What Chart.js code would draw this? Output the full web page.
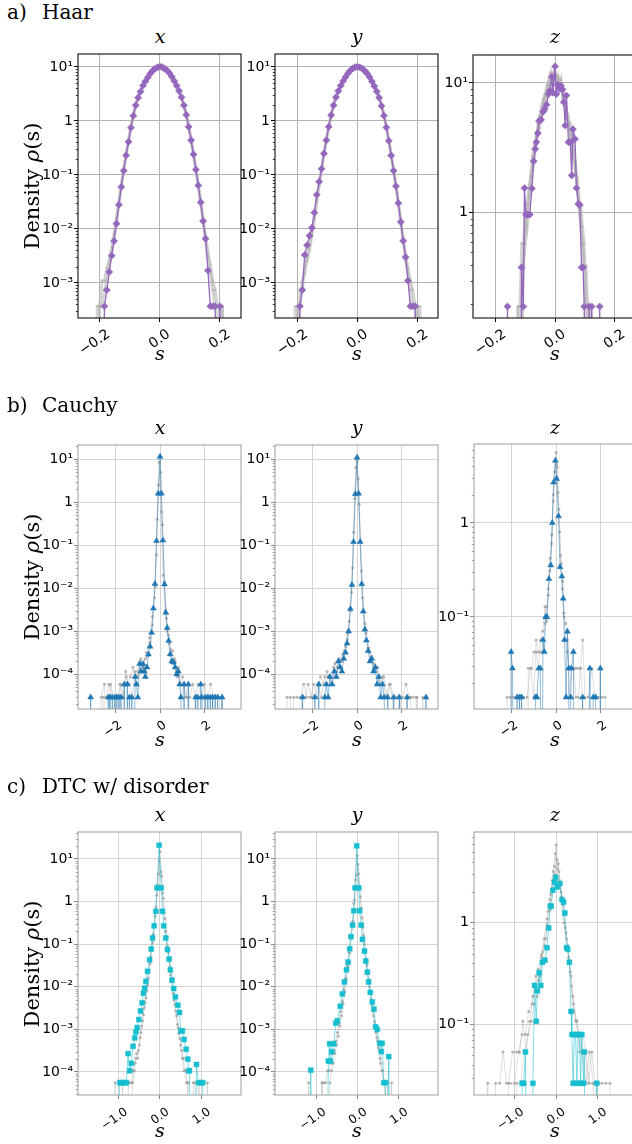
<!DOCTYPE html>
<html>
<head>
<meta charset="utf-8">
<title>Density of s</title>
<script src="https://cdn.jsdelivr.net/npm/chart.js@4.4.1/dist/chart.umd.min.js"></script>
<style>
  html, body { margin: 0; padding: 0; background: #fff; }
  body { position: relative; width: 632px; height: 1144px; overflow: hidden; }
  canvas { position: absolute; }
  .txt { position: absolute; font-family: 'DejaVu Serif', serif; color: #000; white-space: nowrap; line-height: 1; }
  .mid { transform: translate(-50%, -50%); }
  .vert { transform: translate(-50%, -50%) rotate(-90deg); }
</style>
</head>
<body>
<script>
// ---- labels ----
var rowTags = ['a)', 'b)', 'c)'];
var rowNames = ['Haar', 'Cauchy', 'DTC w/ disorder'];
var colNames = ['x', 'y', 'z'];

// ---- ticks ----
var haarTicks = [-0.2, 0, 0.2];
var cauchyTicks = [-2, 0, 2];
var dtcTicks = [-1, 0, 1];
var decA = [10, 1, 0.1, 0.01, 0.001];
var decAZ = [10, 1];
var decBC = [10, 1, 0.1, 0.01, 0.001, 0.0001];
var decZ = [1, 0.1];

// ---- a) Haar : shared bins for x and y ----
var haarBins = [-0.216,-0.208,-0.2,-0.192,-0.184,-0.176,-0.168,-0.16,-0.152,
  -0.144,-0.136,-0.128,-0.12,-0.112,-0.104,-0.096,-0.088,-0.08,
  -0.072,-0.064,-0.056,-0.048,-0.04,-0.032,-0.024,-0.016,-0.008,
  0,0.008,0.016,0.024,0.032,0.04,0.048,0.056,0.064,
  0.072,0.08,0.088,0.096,0.104,0.112,0.12,0.128,0.136,
  0.144,0.152,0.16,0.168,0.176,0.184,0.192,0.2,0.208,
  0.216];
var haarX_purple = [0,0,0,0,3.7e-4,7.4e-4,1.6e-3,3.2e-3,6.0e-3,
  0.0125,0.028,0.060,0.12,0.23,0.41,0.75,1.25,1.95,
  2.7,3.5,4.5,5.4,6.4,7.5,8.5,9.3,9.8,
  10.2,9.9,9.3,8.6,7.7,6.6,5.5,4.5,3.6,
  2.75,1.95,1.3,0.78,0.44,0.24,0.125,0.064,0.031,
  0.014,6.6e-3,1.7e-3,3.7e-4,3.7e-4,3.7e-4,0,3.7e-4,0,
  0];
var haarX_gray1 = [0,3.7e-4,3.7e-4,1.1e-3,1.1e-3,1.9e-3,2.6e-3,4.5e-3,8.2e-3,
  0.016,0.033,0.066,0.13,0.25,0.44,0.79,1.3,2.0,
  2.8,3.6,4.6,5.5,6.5,7.6,8.6,9.4,9.9,
  10.3,10.0,9.4,8.7,7.8,6.7,5.6,4.6,3.7,
  2.8,2.0,1.35,0.82,0.47,0.26,0.135,0.068,0.034,
  0.016,7.8e-3,3.7e-3,2.2e-3,1.1e-3,7.4e-4,3.7e-4,3.7e-4,3.7e-4,
  0];
var haarX_gray2 = [0,0,3.7e-4,3.7e-4,7.4e-4,1.1e-3,2.2e-3,3.7e-3,7.0e-3,
  0.014,0.030,0.062,0.125,0.24,0.43,0.77,1.27,1.97,
  2.72,3.55,4.5,5.45,6.45,7.5,8.5,9.3,9.8,
  10.1,9.8,9.3,8.55,7.6,6.5,5.4,4.45,3.5,
  2.7,1.92,1.28,0.77,0.43,0.23,0.12,0.06,0.029,
  0.013,6.0e-3,3.0e-3,1.5e-3,7.4e-4,3.7e-4,3.7e-4,0,3.7e-4,
  0];
var haarY_purple = [0,0,0,3.7e-4,7.4e-4,3.3e-3,5.0e-3,7.5e-3,0.0105,
  0.020,0.043,0.075,0.13,0.25,0.44,0.78,1.28,1.95,
  2.75,3.6,4.5,5.5,6.5,7.6,8.6,9.4,9.9,
  10.1,9.8,9.3,8.5,7.6,6.5,5.4,4.4,3.5,
  2.7,1.9,1.25,0.76,0.43,0.23,0.12,0.062,0.030,
  0.0135,6.0e-3,3.0e-3,1.1e-3,3.7e-4,3.7e-4,3.7e-4,0,0,
  0];
var haarY_gray1 = [0,0,3.7e-4,3.7e-4,1.1e-3,1.5e-3,3.0e-3,5.2e-3,9.0e-3,
  0.017,0.035,0.068,0.13,0.25,0.45,0.8,1.3,2.0,
  2.8,3.65,4.6,5.55,6.55,7.6,8.6,9.4,9.9,
  10.2,9.9,9.4,8.6,7.7,6.6,5.5,4.5,3.6,
  2.75,1.95,1.3,0.8,0.45,0.25,0.13,0.066,0.032,
  0.015,7.0e-3,3.4e-3,1.9e-3,1.1e-3,7.4e-4,3.7e-4,3.7e-4,0,
  0];
var haarY_gray2 = [0,3.7e-4,0,7.4e-4,7.4e-4,1.9e-3,2.6e-3,4.1e-3,7.8e-3,
  0.015,0.031,0.063,0.125,0.24,0.43,0.77,1.27,1.96,
  2.73,3.55,4.5,5.45,6.45,7.5,8.5,9.3,9.8,
  10.1,9.8,9.3,8.5,7.6,6.5,5.4,4.4,3.5,
  2.7,1.9,1.27,0.77,0.43,0.23,0.12,0.061,0.029,
  0.013,6.0e-3,2.6e-3,1.5e-3,7.4e-4,3.7e-4,3.7e-4,0,3.7e-4,
  0];

// ---- a) Haar z : [s, density] ----
var haarZ_purple = [[-0.166,0],[-0.16,0.19],[-0.155,0],[-0.118,0],[-0.113,0.38],[-0.107,0.19],
  [-0.103,1.55],[-0.098,0.97],[-0.092,0.97],[-0.085,0.97],[-0.078,1.54],[-0.072,2.5],[-0.067,3.1],
  [-0.063,3.5],[-0.058,4.1],[-0.054,5.1],[-0.047,5.2],[-0.04,6.0],[-0.035,6.3],[-0.029,6.8],
  [-0.022,8.2],[-0.018,8.7],[-0.011,11.1],[-0.007,8.4],[0,13.4],[0.004,8.2],[0.009,9.7],
  [0.016,9.0],[0.02,9.5],[0.025,8.9],[0.029,7.1],[0.034,4.7],[0.038,8.0],[0.045,3.5],[0.051,3.5],
  [0.056,1.94],[0.06,4.4],[0.067,3.7],[0.072,1.55],[0.078,1.17],[0.083,1.15],[0.089,0.38],
  [0.094,0.38],[0.098,0.19],[0.103,0],[0.109,0],[0.114,0.19],[0.119,0],[0.123,0.19],[0.128,0],
  [0.145,0],[0.15,0.19],[0.155,0]];
var haarZ_gray1 = [[-0.13,0],[-0.125,0.19],[-0.12,0],[-0.108,0.38],[-0.1,0.58],[-0.094,0.97],[-0.088,1.35],
  [-0.082,1.9],[-0.076,2.3],[-0.07,2.9],[-0.064,3.9],[-0.058,4.4],[-0.052,5.3],[-0.046,6.6],[-0.04,7.5],
  [-0.034,8.2],[-0.028,9.5],[-0.022,10.5],[-0.016,11.8],[-0.01,10.2],[-0.004,12.0],[0.002,10.8],
  [0.008,11.4],[0.014,9.3],[0.02,10.6],[0.026,8.1],[0.032,7.2],[0.038,6.0],[0.044,5.6],[0.05,4.1],
  [0.056,3.7],[0.062,3.0],[0.068,2.2],[0.074,1.7],[0.08,1.1],[0.086,0.78],[0.092,0.58],[0.098,0.38],
  [0.104,0.19],[0.11,0.19],[0.116,0]];
var haarZ_gray2 = [[-0.13,0],[-0.124,0.19],[-0.118,0.19],[-0.112,0.58],[-0.106,0.58],[-0.1,0.78],
  [-0.094,1.17],[-0.088,1.55],[-0.082,1.9],[-0.076,2.7],[-0.07,3.3],[-0.064,3.3],[-0.058,4.8],
  [-0.052,5.6],[-0.046,5.9],[-0.04,7.0],[-0.034,7.8],[-0.028,8.7],[-0.022,9.9],[-0.016,9.1],
  [-0.01,11.6],[-0.004,10.4],[0.002,9.7],[0.008,10.9],[0.014,10.2],[0.02,8.9],[0.026,9.1],
  [0.032,6.6],[0.038,6.6],[0.044,4.8],[0.05,4.9],[0.056,3.3],[0.062,2.7],[0.068,2.5],[0.074,1.55],
  [0.08,1.36],[0.086,0.97],[0.092,0.58],[0.098,0.39],[0.104,0.39],[0.11,0.19],[0.116,0.19],[0.122,0]];
var haarZ_gray3 = [[-0.118,0],[-0.112,0.19],[-0.106,0.39],[-0.1,0.97],[-0.094,0.78],[-0.088,1.17],
  [-0.082,1.55],[-0.076,2.1],[-0.07,2.5],[-0.064,3.7],[-0.058,3.9],[-0.052,4.5],[-0.046,5.6],
  [-0.04,6.4],[-0.034,7.4],[-0.028,7.8],[-0.022,9.7],[-0.016,10.1],[-0.01,9.1],[-0.004,11.3],
  [0.002,11.7],[0.008,9.5],[0.014,10.7],[0.02,9.7],[0.026,7.6],[0.032,7.8],[0.038,5.3],[0.044,5.1],
  [0.05,4.3],[0.056,2.9],[0.062,3.5],[0.068,2.0],[0.074,1.9],[0.08,1.17],[0.086,1.17],[0.092,0.78],
  [0.098,0.58],[0.104,0.19],[0.11,0],[0.116,0.19],[0.122,0.19],[0.128,0]];

// ---- b) Cauchy ----
var cauchyX_blue = [[-3.16,0],[-3.12,2.9e-5],[-3.08,0],[-2.37,0],[-2.33,2.9e-5],[-2.295,0],[-2.26,2.9e-5],
  [-2.2,0],[-2.15,2.9e-5],[-2.09,0],[-2.03,2.9e-5],[-1.985,0],[-1.94,2.9e-5],[-1.895,0],[-1.85,2.9e-5],
  [-1.805,0],[-1.76,2.9e-5],[-1.69,0],[-1.61,5.8e-5],[-1.54,0],[-1.47,5.8e-5],[-1.425,0],[-1.38,2.9e-5],
  [-1.325,0],[-1.27,2.9e-5],[-1.195,0],[-1.12,8.7e-5],[-1.06,5.8e-5],[-1.0,2.9e-5],[-0.92,1.74e-4],
  [-0.85,1.16e-4],[-0.77,1.74e-4],[-0.71,1.16e-4],[-0.66,8.7e-5],[-0.59,1.45e-4],[-0.52,2.9e-4],
  [-0.45,4.4e-4],[-0.38,9.3e-4],[-0.3,3.4e-3],[-0.23,0.0126],[-0.16,0.126],[-0.08,1.6],[0,11.5],
  [0.06,1.6],[0.13,0.13],[0.2,0.0124],[0.26,2.7e-3],[0.32,1.2e-3],[0.39,6.0e-4],[0.45,2.9e-4],
  [0.53,2.0e-4],[0.6,1.9e-4],[0.68,1.45e-4],[0.75,1.0e-4],[0.82,1.16e-4],[0.88,5.8e-5],[0.94,2.9e-5],
  [1.0,0],[1.08,5.8e-5],[1.17,0],[1.27,5.8e-5],[1.33,0],[1.56,0],[1.6,2.9e-5],[1.65,0],[1.7,2.9e-5],
  [1.765,0],[1.83,5.8e-5],[1.88,2.9e-5],[1.955,0],[2.03,2.9e-5],[2.09,0],[2.15,2.9e-5],[2.205,0],
  [2.26,2.9e-5],[2.31,0],[2.36,2.9e-5],[2.42,0],[2.48,2.9e-5],[2.535,0],[2.59,2.9e-5],[2.69,0],
  [2.79,2.9e-5],[2.84,0]];
var cauchyX_gray1 = [[-2.6,0],[-2.56,2.9e-5],[-2.43,2.9e-5],[-2.3,5.8e-5],[-2.17,2.9e-5],[-2.04,2.9e-5],
  [-1.91,2.9e-5],[-1.78,5.8e-5],[-1.65,2.9e-5],[-1.52,8.7e-5],[-1.39,5.8e-5],[-1.26,2.9e-5],
  [-1.13,1.16e-4],[-1.0,8.7e-5],[-0.87,2.3e-4],[-0.74,1.45e-4],[-0.61,3.2e-4],[-0.48,7e-4],
  [-0.35,2.2e-3],[-0.22,0.011],[-0.13,0.4],[-0.04,8.5],[0.05,0.6],[0.14,0.02],[0.23,3e-3],[0.32,1e-3],
  [0.41,5.2e-4],[0.5,3.2e-4],[0.59,1.74e-4],[0.68,2.0e-4],[0.77,8.7e-5],[0.86,1.16e-4],[0.95,2.9e-5],
  [1.08,5.8e-5],[1.21,2.9e-5],[1.34,2.9e-5],[1.47,5.8e-5],[1.6,2.9e-5],[1.73,2.9e-5],[1.86,2.9e-5],
  [1.99,5.8e-5],[2.12,2.9e-5],[2.25,2.9e-5],[2.38,2.9e-5],[2.51,2.9e-5],[2.64,2.9e-5],[2.77,2.9e-5],[2.82,0]];
var cauchyX_gray2 = [[-2.7,0],[-2.65,2.9e-5],[-2.5,5.8e-5],[-2.36,0],[-2.22,5.8e-5],[-2.08,2.9e-5],[-1.94,0],
  [-1.8,5.8e-5],[-1.66,2.9e-5],[-1.55,1.16e-4],[-1.44,5.8e-5],[-1.33,8.7e-5],[-1.22,1.45e-4],
  [-1.11,5.8e-5],[-1.0,1.16e-4],[-0.89,2.0e-4],[-0.78,1.45e-4],[-0.67,2.3e-4],[-0.56,2.6e-4],
  [-0.45,5.5e-4],[-0.34,1.4e-3],[-0.25,6e-3],[-0.16,0.06],[-0.07,2.5],[0.02,5.0],[0.11,0.3],[0.2,0.014],
  [0.29,2e-3],[0.38,8.1e-4],[0.47,3.8e-4],[0.56,3.5e-4],[0.65,2.3e-4],[0.74,1.16e-4],[0.83,1.45e-4],
  [0.92,5.8e-5],[1.01,8.7e-5],[1.15,2.9e-5],[1.29,5.8e-5],[1.43,0],[1.57,2.9e-5],[1.71,5.8e-5],
  [1.85,2.9e-5],[1.99,0],[2.13,2.9e-5],[2.27,5.8e-5],[2.41,2.9e-5],[2.55,0],[2.69,2.9e-5],[2.8,2.9e-5],[2.86,0]];
var cauchyY_blue = [[-2.5,0],[-2.45,2.9e-5],[-2.4,0],[-1.95,0],[-1.9,2.9e-5],[-1.83,0],[-1.72,5.8e-5],
  [-1.65,0],[-1.5,0],[-1.45,2.9e-5],[-1.38,5.8e-5],[-1.3,2.9e-5],[-1.22,8.7e-5],[-1.12,5.8e-5],
  [-1.02,1.16e-4],[-0.93,8.7e-5],[-0.84,2.0e-4],[-0.76,1.45e-4],[-0.68,1.16e-4],[-0.6,2.3e-4],
  [-0.52,3.2e-4],[-0.45,5.2e-4],[-0.38,1.0e-3],[-0.3,3.3e-3],[-0.23,0.012],[-0.16,0.12],[-0.08,1.55],
  [0,11],[0.07,1.6],[0.14,0.12],[0.21,0.0125],[0.28,2.9e-3],[0.35,1.1e-3],[0.42,6.1e-4],[0.5,3.5e-4],
  [0.58,2.0e-4],[0.66,2.3e-4],[0.74,1.16e-4],[0.82,1.45e-4],[0.9,5.8e-5],[0.98,8.7e-5],[1.06,2.9e-5],
  [1.14,5.8e-5],[1.22,2.9e-5],[1.3,0],[1.38,2.9e-5],[1.46,0],[1.6,0],[1.65,2.9e-5],[1.7,0],[1.85,0],
  [1.9,2.9e-5],[1.95,0],[2.2,0],[2.25,2.9e-5],[2.3,0],[3.05,0],[3.1,2.9e-5],[3.15,0]];
var cauchyY_gray1 = [[-2.9,0],[-2.85,2.9e-5],[-2.7,2.9e-5],[-2.55,2.9e-5],[-2.4,5.8e-5],[-2.25,2.9e-5],
  [-2.1,2.9e-5],[-1.95,5.8e-5],[-1.8,2.9e-5],[-1.65,8.7e-5],[-1.5,5.8e-5],[-1.35,1.16e-4],[-1.2,5.8e-5],
  [-1.05,1.45e-4],[-0.92,1.16e-4],[-0.8,2.3e-4],[-0.68,2.0e-4],[-0.56,3.5e-4],[-0.45,6.4e-4],
  [-0.35,1.7e-3],[-0.25,8e-3],[-0.15,0.2],[-0.05,6.5],[0.05,3.5],[0.15,0.12],[0.25,6e-3],[0.35,1.5e-3],
  [0.45,6.1e-4],[0.56,3.2e-4],[0.68,2.3e-4],[0.8,1.16e-4],[0.92,1.45e-4],[1.05,5.8e-5],[1.2,8.7e-5],
  [1.35,2.9e-5],[1.5,5.8e-5],[1.65,2.9e-5],[1.8,2.9e-5],[1.95,2.9e-5],[2.1,0],[2.25,2.9e-5],[2.4,2.9e-5],
  [2.55,0],[2.7,2.9e-5],[2.85,0]];
var cauchyY_gray2 = [[-3.2,0],[-3.15,2.9e-5],[-3.0,2.9e-5],[-2.85,0],[-2.6,0],[-2.5,2.9e-5],[-2.35,2.9e-5],
  [-2.2,5.8e-5],[-2.05,2.9e-5],[-1.9,2.9e-5],[-1.75,5.8e-5],[-1.6,2.9e-5],[-1.45,8.7e-5],[-1.3,8.7e-5],
  [-1.15,5.8e-5],[-1.0,1.74e-4],[-0.88,1.45e-4],[-0.76,2.0e-4],[-0.64,2.9e-4],[-0.52,4.4e-4],
  [-0.41,8.7e-4],[-0.3,3e-3],[-0.2,0.03],[-0.1,1.2],[0.0,9],[0.1,0.9],[0.2,0.025],[0.3,2.8e-3],
  [0.41,9e-4],[0.52,4.1e-4],[0.64,2.6e-4],[0.76,1.74e-4],[0.88,1.16e-4],[1.0,5.8e-5],[1.15,8.7e-5],
  [1.3,2.9e-5],[1.45,5.8e-5],[1.6,2.9e-5],[1.75,0],[1.9,2.9e-5],[2.05,2.9e-5],[2.2,5.8e-5],[2.35,2.9e-5],
  [2.5,2.9e-5],[2.65,2.9e-5],[2.8,0],[2.95,2.9e-5],[3.1,0]];
var cauchyZ_blue = [[-2.08,0],[-2.02,0.0425],[-1.96,0.0284],[-1.85,0],[-1.75,0.014],[-1.7,0],[-1.64,0.014],
  [-1.6,0],[-1.55,0.014],[-1.5,0],[-0.97,0],[-0.92,0.014],[-0.86,0.014],[-0.78,0.0284],[-0.71,0.0284],
  [-0.65,0],[-0.59,0.057],[-0.53,0.0425],[-0.47,0.1],[-0.41,0.1],[-0.32,0.254],[-0.24,0.355],
  [-0.17,1.0],[-0.11,2.7],[-0.03,4.6],[0.03,2.94],[0.11,1.18],[0.18,0.34],[0.26,0.27],[0.32,0.157],
  [0.38,0.057],[0.45,0.014],[0.51,0.07],[0.57,0.0284],[0.62,0],[0.66,0.014],[0.69,0.0284],[0.78,0.0425],
  [0.84,0],[1.14,0],[1.19,0.014],[1.24,0],[1.47,0],[1.52,0.0284],[1.58,0],[1.62,0],[1.67,0.014],
  [1.78,0.014],[1.84,0],[1.94,0],[1.99,0.0284],[2.04,0]];
var cauchyZ_gray1 = [[-2.25,0],[-2.2,0.014],[-2.05,0.014],[-1.9,0.014],[-1.75,0.014],[-1.6,0.014],
  [-1.45,0.014],[-1.3,0.014],[-1.15,0.0284],[-1.0,0.014],[-0.9,0.057],[-0.8,0.0425],[-0.7,0.0425],
  [-0.6,0.0425],[-0.5,0.085],[-0.42,0.128],[-0.35,0.2],[-0.28,0.31],[-0.2,0.6],[-0.13,1.7],[-0.06,3.5],
  [0.0,5.6],[0.06,3.9],[0.13,1.4],[0.2,0.45],[0.28,0.2],[0.35,0.11],[0.42,0.057],[0.5,0.0425],
  [0.6,0.0284],[0.7,0.0284],[0.8,0.0284],[0.9,0.0284],[1.0,0.0284],[1.1,0.0284],[1.2,0.057],[1.3,0.014],
  [1.45,0.014],[1.6,0.0284],[1.75,0.014],[1.9,0.014],[2.05,0.014],[2.2,0.014],[2.25,0]];
var cauchyZ_gray2 = [[-1.3,0],[-1.25,0.0284],[-1.1,0.0284],[-1.0,0.0425],[-0.9,0.0425],[-0.8,0.0284],
  [-0.7,0.057],[-0.6,0.071],[-0.5,0.128],[-0.42,0.09],[-0.35,0.17],[-0.27,0.42],[-0.19,0.75],[-0.12,2.0],
  [-0.05,3.0],[0.02,4.2],[0.09,2.1],[0.16,0.8],[0.23,0.37],[0.3,0.24],[0.37,0.1],[0.44,0.085],
  [0.51,0.057],[0.6,0.014],[0.7,0.0284],[0.8,0.0284],[0.9,0.014],[1.0,0.014],[1.1,0.0284],[1.2,0.014],[1.3,0]];

// ---- c) DTC w/ disorder ----
var dtcX_cyan = [[-1.01,0],[-0.97,5.6e-5],[-0.93,5.6e-5],[-0.89,5.6e-5],[-0.85,5.6e-5],[-0.81,5.6e-5],
  [-0.77,2.7e-4],[-0.73,1.07e-4],[-0.69,1.6e-4],[-0.65,4.0e-4],[-0.61,6.3e-4],[-0.58,8.7e-4],
  [-0.55,1.1e-3],[-0.51,1.7e-3],[-0.47,2.7e-3],[-0.43,4.2e-3],[-0.4,7.1e-3],[-0.37,9.3e-3],
  [-0.34,0.0134],[-0.3,0.023],[-0.25,0.043],[-0.21,0.077],[-0.18,0.14],[-0.14,0.27],[-0.1,0.59],
  [-0.07,2.1],[-0.02,21],[0.03,2.1],[0.06,0.59],[0.09,0.27],[0.14,0.14],[0.18,0.075],[0.22,0.045],
  [0.25,0.025],[0.29,0.0143],[0.33,9.1e-3],[0.37,5.8e-3],[0.43,3.7e-3],[0.47,2.5e-3],[0.5,9.2e-4],
  [0.54,9.2e-4],[0.58,5.8e-4],[0.63,3.4e-4],[0.67,2.0e-4],[0.69,1.07e-4],[0.71,1.07e-4],[0.75,0],
  [0.84,0],[0.88,1.5e-4],[0.93,5.6e-5],[0.98,5.6e-5],[1.03,5.6e-5],[1.07,0]];
var dtcX_gray1 = [[-1.12,0],[-1.08,5.6e-5],[-1.04,0],[-0.8,0],[-0.76,5.6e-5],[-0.72,5.6e-5],[-0.68,5.6e-5],
  [-0.64,1.07e-4],[-0.6,1.6e-4],[-0.56,2.7e-4],[-0.52,3.2e-4],[-0.48,6.4e-4],[-0.44,1.2e-3],[-0.4,2.2e-3],
  [-0.36,4.3e-3],[-0.32,8.0e-3],[-0.28,0.016],[-0.24,0.035],[-0.2,0.075],[-0.16,0.17],[-0.12,0.45],
  [-0.08,1.4],[-0.04,4.5],[0.0,15],[0.04,4.0],[0.08,1.2],[0.12,0.4],[0.16,0.15],[0.2,0.065],[0.24,0.03],
  [0.28,0.014],[0.32,7e-3],[0.36,3.8e-3],[0.4,2.1e-3],[0.44,1.1e-3],[0.48,6e-4],[0.52,3.2e-4],
  [0.56,2.1e-4],[0.6,1.07e-4],[0.64,5.6e-5],[0.68,5.6e-5],[0.72,0],[0.9,0],[0.94,5.6e-5],[0.98,0],
  [1.1,0],[1.14,5.6e-5],[1.18,0]];
var dtcX_gray2 = [[-0.95,0],[-0.9,5.6e-5],[-0.86,0],[-0.7,0],[-0.66,5.6e-5],[-0.62,1.07e-4],[-0.58,2.1e-4],
  [-0.54,2.1e-4],[-0.5,4.3e-4],[-0.46,8.5e-4],[-0.42,1.6e-3],[-0.38,3.2e-3],[-0.34,5.5e-3],[-0.3,0.011],
  [-0.26,0.024],[-0.22,0.05],[-0.18,0.11],[-0.14,0.26],[-0.1,0.75],[-0.06,2.5],[-0.02,9],[0.02,5],
  [0.06,1.6],[0.1,0.55],[0.14,0.2],[0.18,0.09],[0.22,0.04],[0.26,0.019],[0.3,9e-3],[0.34,4.8e-3],
  [0.38,2.7e-3],[0.42,1.3e-3],[0.46,8e-4],[0.5,4.3e-4],[0.54,2.1e-4],[0.58,1.07e-4],[0.62,1.07e-4],
  [0.66,5.6e-5],[0.7,0],[0.76,0],[0.8,5.6e-5],[0.84,5.6e-5],[0.88,0]];
var dtcY_cyan = [[-1.19,0],[-1.15,1.1e-4],[-1.11,0],[-0.76,0],[-0.72,1.8e-4],[-0.69,4.6e-4],[-0.67,1.8e-4],
  [-0.64,3.0e-4],[-0.59,4.6e-4],[-0.54,1.4e-3],[-0.5,1.6e-3],[-0.43,3.5e-3],[-0.38,6.8e-3],[-0.33,0.013],
  [-0.28,0.025],[-0.24,0.038],[-0.2,0.078],[-0.17,0.15],[-0.13,0.28],[-0.1,0.61],[-0.07,2.1],[-0.03,20.4],
  [0.02,2.1],[0.04,0.61],[0.08,0.28],[0.11,0.13],[0.16,0.069],[0.19,0.04],[0.23,0.022],[0.26,0.013],
  [0.3,7.4e-3],[0.35,4.4e-3],[0.39,3.0e-3],[0.43,1.15e-3],[0.47,1.0e-3],[0.53,4.7e-4],[0.57,3.0e-4],
  [0.59,4.7e-4],[0.63,5.6e-5],[0.67,5.6e-5],[0.71,0],[0.75,2.3e-4],[0.79,0]];
var dtcY_gray1 = [[-1.25,0],[-1.2,5.6e-5],[-1.16,0],[-0.9,0],[-0.86,5.6e-5],[-0.82,5.6e-5],[-0.78,5.6e-5],
  [-0.74,1.07e-4],[-0.7,1.07e-4],[-0.66,1.6e-4],[-0.62,2.7e-4],[-0.58,3.2e-4],[-0.54,5.3e-4],
  [-0.5,8.5e-4],[-0.46,1.4e-3],[-0.42,2.6e-3],[-0.38,4.5e-3],[-0.34,8.5e-3],[-0.3,0.016],[-0.26,0.032],
  [-0.22,0.065],[-0.18,0.14],[-0.14,0.32],[-0.1,0.9],[-0.06,3.2],[-0.02,12],[0.02,4.5],[0.06,1.3],
  [0.1,0.42],[0.14,0.16],[0.18,0.07],[0.22,0.032],[0.26,0.015],[0.3,7.5e-3],[0.34,3.8e-3],[0.38,2.1e-3],
  [0.42,1.1e-3],[0.46,6.4e-4],[0.5,3.7e-4],[0.54,2.1e-4],[0.58,1.07e-4],[0.62,5.6e-5],[0.66,5.6e-5],
  [0.7,0],[0.78,0],[0.82,5.6e-5],[0.86,0]];
var dtcY_gray2 = [[-0.92,0],[-0.88,5.6e-5],[-0.84,0],[-0.72,0],[-0.68,5.6e-5],[-0.64,1.07e-4],[-0.6,1.6e-4],
  [-0.56,2.7e-4],[-0.52,4.3e-4],[-0.48,6.9e-4],[-0.44,1.2e-3],[-0.4,2.1e-3],[-0.36,4e-3],[-0.32,7.5e-3],
  [-0.28,0.015],[-0.24,0.03],[-0.2,0.062],[-0.16,0.14],[-0.12,0.35],[-0.08,1.1],[-0.04,4.2],[0.0,7.5],
  [0.04,2.2],[0.08,0.7],[0.12,0.25],[0.16,0.1],[0.2,0.045],[0.24,0.021],[0.28,0.01],[0.32,5e-3],
  [0.36,2.7e-3],[0.4,1.5e-3],[0.44,8.5e-4],[0.48,5.3e-4],[0.52,3.2e-4],[0.56,1.6e-4],[0.6,1.07e-4],
  [0.64,5.6e-5],[0.68,0],[0.72,5.6e-5],[0.76,0]];
var dtcZ_cyan = [[-0.86,0],[-0.82,0.0266],[-0.78,0.0266],[-0.74,0.054],[-0.7,0],[-0.6,0],[-0.56,0.0266],
  [-0.52,0.243],[-0.48,0.108],[-0.45,0.215],[-0.41,0.324],[-0.37,0.243],[-0.33,0.41],[-0.27,0.43],
  [-0.22,0.57],[-0.18,0.89],[-0.14,1.46],[-0.12,1.46],[-0.08,2.09],[-0.04,2.5],[-0.01,2.8],[0.03,2.25],
  [0.09,2.43],[0.14,1.69],[0.18,1.6],[0.21,1.25],[0.25,0.57],[0.28,0.55],[0.32,0.41],[0.36,0.135],
  [0.38,0.08],[0.41,0.0266],[0.44,0.08],[0.47,0.08],[0.5,0.0266],[0.53,0.08],[0.56,0.08],[0.59,0.0266],
  [0.62,0.08],[0.66,0.0266],[0.68,0.054],[0.72,0],[0.94,0],[0.98,0.0266],[1.02,0]];
var dtcZ_gray1 = [[-1.7,0],[-1.65,0.0266],[-1.55,0],[-1.46,0.0266],[-1.36,0.0266],[-1.28,0.054],[-1.2,0.0266],
  [-1.1,0.0266],[-1.0,0.0266],[-0.9,0.054],[-0.82,0.08],[-0.74,0.08],[-0.66,0.135],[-0.58,0.16],
  [-0.5,0.24],[-0.43,0.35],[-0.36,0.46],[-0.29,0.7],[-0.22,1.1],[-0.15,1.7],[-0.09,2.6],[-0.04,3.6],
  [0.0,5.8],[0.05,3.8],[0.1,2.4],[0.16,1.5],[0.22,0.9],[0.28,0.6],[0.34,0.33],[0.4,0.19],[0.47,0.11],
  [0.54,0.08],[0.62,0.054],[0.7,0.054],[0.78,0.0266],[0.86,0.054],[0.94,0.0266],[1.02,0.0266],
  [1.1,0.0266],[1.2,0.0266],[1.3,0.0266],[1.35,0]];
var dtcZ_gray2 = [[-1.2,0],[-1.15,0.0266],[-1.05,0.054],[-0.96,0.054],[-0.88,0.054],[-0.8,0.108],[-0.72,0.054],
  [-0.64,0.108],[-0.56,0.19],[-0.49,0.3],[-0.42,0.27],[-0.35,0.49],[-0.28,0.6],[-0.21,0.95],[-0.14,1.35],
  [-0.08,2.2],[-0.03,3.0],[0.02,4.2],[0.07,3.2],[0.12,2.0],[0.18,1.2],[0.24,0.8],[0.3,0.46],[0.36,0.3],
  [0.42,0.16],[0.49,0.108],[0.56,0.08],[0.64,0.054],[0.72,0.0266],[0.8,0.054],[0.9,0.0266],[1.0,0]];
var dtcZ_gray3 = [[-1.0,0],[-0.95,0.0266],[-0.85,0.0266],[-0.76,0.054],[-0.68,0.08],[-0.6,0.108],
  [-0.53,0.16],[-0.46,0.19],[-0.39,0.3],[-0.32,0.52],[-0.25,0.7],[-0.19,1.3],[-0.13,1.9],[-0.07,3.2],
  [-0.02,4.8],[0.03,3.4],[0.08,2.6],[0.13,1.8],[0.19,1.0],[0.25,0.7],[0.31,0.43],[0.37,0.24],
  [0.43,0.135],[0.5,0.108],[0.57,0.054],[0.64,0.08],[0.72,0.054],[0.8,0.0266],[0.88,0.0266],
  [0.96,0.0266],[1.04,0]];

// ---- styling per row ----
var ROW_STYLE = [
  { frame: '#222', frameW: 1.2, grid: '#b3b3b3', tick: '#000', xFont: 14, lblOff: 9, lblPad: 4,
    color: '#9467bd', line: '#9467bd', shape: 'rectRot', r: 3.6, lw: 1.3,
    gLine: 'rgba(178,178,178,0.55)', gLw: 3, gPt: 'rgba(170,170,170,0.6)', gR: 1.2 },
  { frame: '#9c9c9c', frameW: 1, grid: '#d4d4d4', tick: '#888', xFont: 12.5, lblOff: 5, lblPad: 5,
    color: '#1f77b4', line: 'rgba(31,119,180,0.55)', shape: 'triangle', r: 3.4, lw: 0.9,
    gLine: 'rgba(165,165,165,0.45)', gLw: 0.8, gPt: 'rgba(160,160,160,0.75)', gR: 1.5 },
  { frame: '#9c9c9c', frameW: 1, grid: '#d4d4d4', tick: '#888', xFont: 12, lblOff: 8, lblPad: 6,
    color: '#17becf', line: 'rgba(23,190,207,0.6)', shape: 'rect', r: 3.5, lw: 0.9,
    gLine: 'rgba(165,165,165,0.45)', gLw: 0.8, gPt: 'rgba(160,160,160,0.75)', gR: 1.5 }
];

function zipBins(bins, vals) {
  return bins.map(function (s, i) { return [s, vals[i]]; });
}

var PANELS = [
  { row: 0, left: 78, top: 54, w: 163, h: 264, x: [-0.272, 0.27], y: [2.24e-4, 17.4], xt: haarTicks, yt: decA, dig: 1,
    main: zipBins(haarBins, haarX_purple), grays: [zipBins(haarBins, haarX_gray1), zipBins(haarBins, haarX_gray2)] },
  { row: 0, left: 275, top: 54, w: 163, h: 264, x: [-0.275, 0.268], y: [2.24e-4, 17.4], xt: haarTicks, yt: decA, dig: 1,
    main: zipBins(haarBins, haarY_purple), grays: [zipBins(haarBins, haarY_gray1), zipBins(haarBins, haarY_gray2)] },
  { row: 0, left: 473, top: 55, w: 163, h: 263, x: [-0.276, 0.272], y: [0.155, 16.4], xt: haarTicks, yt: decAZ, dig: 1,
    main: haarZ_purple, grays: [haarZ_gray1, haarZ_gray2, haarZ_gray3] },
  { row: 1, left: 78, top: 445, w: 163, h: 264, x: [-3.69, 3.64], y: [1.55e-5, 21.4], xt: cauchyTicks, yt: decBC, dig: 0,
    main: cauchyX_blue, grays: [cauchyX_gray1, cauchyX_gray2] },
  { row: 1, left: 275, top: 445, w: 163, h: 264, x: [-3.69, 3.64], y: [1.55e-5, 21.4], xt: cauchyTicks, yt: decBC, dig: 0,
    main: cauchyY_blue, grays: [cauchyY_gray1, cauchyY_gray2] },
  { row: 1, left: 474, top: 444, w: 163, h: 265, x: [-3.69, 3.64], y: [0.0105, 6.9], xt: cauchyTicks, yt: decZ, dig: 0,
    main: cauchyZ_blue, grays: [cauchyZ_gray1, cauchyZ_gray2] },
  { row: 2, left: 78, top: 832, w: 163, h: 263, x: [-1.976, 1.952], y: [2.88e-5, 43], xt: dtcTicks, yt: decBC, dig: 1,
    main: dtcX_cyan, grays: [dtcX_gray1, dtcX_gray2] },
  { row: 2, left: 275, top: 832, w: 163, h: 263, x: [-2.02, 1.95], y: [2.88e-5, 43], xt: dtcTicks, yt: decBC, dig: 1,
    main: dtcY_cyan, grays: [dtcY_gray1, dtcY_gray2] },
  { row: 2, left: 474, top: 832, w: 163, h: 263, x: [-1.98, 1.95], y: [0.0204, 7.8], xt: dtcTicks, yt: decZ, dig: 1,
    main: dtcZ_cyan, grays: [dtcZ_gray1, dtcZ_gray2, dtcZ_gray3] }
];

var PAD_L = 48, PAD_R = 6, PAD_T = 6, PAD_B = 52;

var SUP = { '-': '\u207B', '0': '\u2070', '1': '\u00B9', '2': '\u00B2', '3': '\u00B3', '4': '\u2074', '5': '\u2075' };
function decadeLabel(v) {
  var e = Math.round(Math.log10(v));
  if (e === 0) return '1';
  return '10' + String(e).split('').map(function (c) { return SUP[c]; }).join('');
}
function xLabel(v, dig) {
  var t = Math.abs(v).toFixed(dig);
  return (v < 0 ? '\u2212' : '') + t;
}

// frame + minor log ticks, drawn on top of the data
var framePlugin = {
  id: 'frame',
  afterDraw: function (chart, args, o) {
    var a = chart.chartArea, c = chart.ctx, ys = chart.scales.y;
    c.save();
    c.strokeStyle = o.tick;
    c.lineWidth = 0.8;
    var lo = Math.floor(Math.log10(ys.min)), hi = Math.ceil(Math.log10(ys.max));
    for (var k = lo; k <= hi; k++) {
      for (var m = 2; m < 10; m++) {
        var v = m * Math.pow(10, k);
        if (v < ys.min || v > ys.max) continue;
        var py = Math.round(ys.getPixelForValue(v)) + 0.5;
        c.beginPath(); c.moveTo(a.left - 2.2, py); c.lineTo(a.left, py); c.stroke();
      }
    }
    c.strokeStyle = o.color;
    c.lineWidth = o.width;
    c.strokeRect(a.left, a.top, a.right - a.left, a.bottom - a.top);
    c.restore();
  }
};

function buildPanel(p) {
  var st = ROW_STYLE[p.row];
  var floorY = p.y[0] * 1e-3; // empty bins drop below the axis, like the clipped log plot
  function pts(pairs) {
    return pairs.map(function (d) { return { x: d[0], y: d[1] > 0 ? d[1] : floorY }; });
  }
  function radii(pairs, r) {
    return pairs.map(function (d) { return d[1] > 0 ? r : 0; });
  }
  var datasets = [{
    data: pts(p.main),
    borderColor: st.line, borderWidth: st.lw,
    pointStyle: st.shape, pointRadius: radii(p.main, st.r),
    pointBackgroundColor: st.color, pointBorderColor: st.color, pointBorderWidth: 0.5,
    tension: 0
  }];
  p.grays.forEach(function (g) {
    datasets.push({
      data: pts(g),
      borderColor: st.gLine, borderWidth: st.gLw,
      pointStyle: 'circle', pointRadius: radii(g, st.gR),
      pointBackgroundColor: st.gPt, pointBorderWidth: 0,
      tension: 0
    });
  });

  var W = p.w + PAD_L + PAD_R, H = p.h + PAD_T + PAD_B;
  var cv = document.createElement('canvas');
  cv.width = W; cv.height = H;
  cv.style.left = (p.left - PAD_L) + 'px';
  cv.style.top = (p.top - PAD_T) + 'px';
  cv.style.width = W + 'px';
  cv.style.height = H + 'px';
  document.body.appendChild(cv);

  new Chart(cv, {
    type: 'line',
    data: { datasets: datasets },
    plugins: [framePlugin],
    options: {
      responsive: false, animation: false, devicePixelRatio: 1, events: [],
      layout: { padding: { left: 0, right: PAD_R, top: PAD_T, bottom: 0 } },
      plugins: {
        legend: { display: false }, tooltip: { enabled: false },
        frame: { color: st.frame, width: st.frameW, tick: st.tick }
      },
      scales: {
        x: {
          type: 'linear', min: p.x[0], max: p.x[1],
          afterBuildTicks: function (s) { s.ticks = p.xt.map(function (v) { return { value: v }; }); },
          afterFit: function (s) { s.height = PAD_B; s.paddingLeft = 0; s.paddingRight = 0; },
          border: { display: false },
          grid: { color: st.grid, lineWidth: 1, drawTicks: true, tickLength: 4, tickColor: st.tick, tickWidth: 1 },
          ticks: {
            autoSkip: false, minRotation: 35, maxRotation: 35, padding: st.lblPad, labelOffset: st.lblOff,
            color: '#000', font: { family: 'DejaVu Sans', size: st.xFont },
            callback: function (v) { return xLabel(v, p.dig); }
          }
        },
        y: {
          type: 'logarithmic', min: p.y[0], max: p.y[1],
          afterBuildTicks: function (s) { s.ticks = p.yt.map(function (v) { return { value: v }; }); },
          afterFit: function (s) { s.width = PAD_L; s.paddingTop = 0; s.paddingBottom = 0; },
          border: { display: false },
          grid: { color: st.grid, lineWidth: 1, drawTicks: true, tickLength: 4, tickColor: st.tick, tickWidth: 1 },
          ticks: {
            autoSkip: false, padding: 1, color: '#000',
            font: { family: 'DejaVu Sans', size: 14 },
            callback: function (v) { return decadeLabel(v); }
          }
        }
      }
    }
  });
}

PANELS.forEach(buildPanel);

// ---- text ----
function addText(html, x, y, size, cls, italic) {
  var d = document.createElement('div');
  d.className = 'txt ' + (cls || '');
  d.style.left = x + 'px';
  d.style.top = y + 'px';
  d.style.fontSize = size + 'px';
  if (italic) d.style.fontStyle = 'italic';
  d.innerHTML = html;
  document.body.appendChild(d);
}

var rowBase = [18.5, 412, 793];          // baselines of the row titles
var colTitleY = [37.5, 429, 816];
var sLabelY = [355, 741, 1132];
var densityY = [186, 577, 964];
var colCenter = [160, 357, 555];

for (var r = 0; r < 3; r++) {
  addText(rowTags[r], 7, rowBase[r] - 17, 20);
  addText(rowNames[r], 42, rowBase[r] - 17, 20);
  for (var c = 0; c < 3; c++) {
    addText(colNames[c], colCenter[c], colTitleY[r] - 1.6, 19, 'mid', true);
    addText('s', colCenter[c], sLabelY[r] - 1.6, 19, 'mid', true);
  }
  addText('Density <i>\u03C1</i>(s)', 31.5, densityY[r], 21, 'vert');
}
</script>
</body>
</html>
